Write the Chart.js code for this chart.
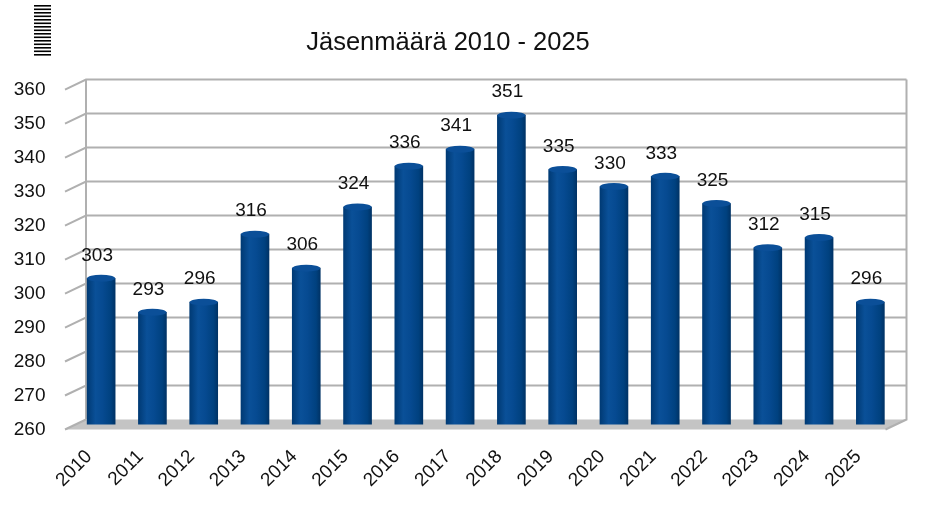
<!DOCTYPE html>
<html>
<head>
<meta charset="utf-8">
<script src="https://cdn.jsdelivr.net/npm/chart.js@4.4.1/dist/chart.umd.min.js"></script>
<style>
  html, body { margin: 0; padding: 0; background: #fff; }
  #wrap { width: 929px; height: 519px; position: relative; }
</style>
</head>
<body>
<div id="wrap"><canvas id="members"></canvas></div>
<script>
const years = ["2010", "2011", "2012", "2013", "2014", "2015", "2016", "2017",
  "2018", "2019", "2020", "2021", "2022", "2023", "2024", "2025"];
const memberCounts = [303, 293, 296, 316, 306, 324, 336, 341, 351, 335, 330, 333, 325, 312, 315, 296];
const yMin = 260;
const yMax = 360;
const yStep = 10;

const FONT = "'Liberation Sans', Arial, sans-serif";
const DEPTH_X = 10.5; // half depth of the fake 3D box
const DEPTH_Y = 5;
const BAR_W = 28;

function barGradient(ctx, cx) {
  const g = ctx.createLinearGradient(cx - BAR_W / 2, 0, cx + BAR_W / 2, 0);
  g.addColorStop(0, "#003a74");
  g.addColorStop(0.3, "#0a5098");
  g.addColorStop(0.55, "#064a91");
  g.addColorStop(0.85, "#00417f");
  g.addColorStop(1, "#003366");
  return g;
}

// back wall, side wall, floor and grid
const box3d = {
  id: "box3d",
  beforeDatasetsDraw(chart) {
    const { ctx, chartArea: a, scales: { y } } = chart;
    const bl = a.left + DEPTH_X, br = a.right + DEPTH_X;
    const fl = a.left - DEPTH_X, fr = a.right - DEPTH_X;
    const base = y.getPixelForValue(yMin);
    ctx.save();
    // floor
    ctx.fillStyle = "#c4c4c4";
    ctx.beginPath();
    ctx.moveTo(fl, base + DEPTH_Y);
    ctx.lineTo(fr, base + DEPTH_Y);
    ctx.lineTo(br, base - DEPTH_Y);
    ctx.lineTo(bl, base - DEPTH_Y);
    ctx.closePath();
    ctx.fill();
    ctx.strokeStyle = "#b0b0b0";
    ctx.lineWidth = 2;
    y.ticks.forEach(t => {
      const py = y.getPixelForValue(t.value);
      ctx.beginPath();
      ctx.moveTo(fl, py + DEPTH_Y);
      ctx.lineTo(bl, py - DEPTH_Y);
      if (t.value !== yMin) ctx.lineTo(br, py - DEPTH_Y);
      ctx.stroke();
    });
    ctx.beginPath();
    ctx.moveTo(bl, y.getPixelForValue(yMax) - DEPTH_Y);
    ctx.lineTo(bl, base - DEPTH_Y);
    ctx.moveTo(br, y.getPixelForValue(yMax) - DEPTH_Y);
    ctx.lineTo(br, base - DEPTH_Y);
    ctx.lineTo(fr, base + DEPTH_Y);
    ctx.stroke();
    ctx.restore();
  }
};

// cylinder caps and value labels
const cylinders = {
  id: "cylinders",
  afterDatasetsDraw(chart) {
    const { ctx } = chart;
    const meta = chart.getDatasetMeta(0);
    ctx.save();
    meta.data.forEach((bar, i) => {
      const rx = bar.width / 2, ry = 3.5;
      ctx.fillStyle = barGradient(ctx, bar.x);
      ctx.beginPath();
      ctx.ellipse(bar.x, bar.base, rx, ry, 0, 0, Math.PI);
      ctx.fill();
      ctx.fillStyle = "#0b4f98";
      ctx.beginPath();
      ctx.ellipse(bar.x, bar.y, rx, ry, 0, 0, Math.PI * 2);
      ctx.fill();
      ctx.fillStyle = "#111";
      ctx.font = "19px " + FONT;
      ctx.textAlign = "center";
      ctx.textBaseline = "middle";
      ctx.fillText(String(memberCounts[i]), bar.x - 4, bar.y - 23);
    });
    ctx.restore();
  }
};

// small dotted mark in the upper left corner
const cornerMark = {
  id: "cornerMark",
  afterDraw(chart) {
    const { ctx } = chart;
    ctx.save();
    ctx.fillStyle = "#000";
    for (let i = 0; i < 15; i++) {
      ctx.fillRect(34, 5 + i * 3.5, 17, 1.6);
    }
    ctx.restore();
  }
};

new Chart(document.getElementById("members"), {
  type: "bar",
  data: {
    labels: years,
    datasets: [{
      data: memberCounts,
      barThickness: BAR_W,
      backgroundColor: c => {
        const x = c.chart.scales.x;
        if (!x || !c.chart.chartArea) return "#004586";
        return barGradient(c.chart.ctx, x.getPixelForValue(c.dataIndex));
      },
      borderWidth: 0
    }]
  },
  options: {
    responsive: true,
    maintainAspectRatio: false,
    animation: false,
    layout: { padding: { top: 0, right: 33, bottom: 0, left: 0 } },
    plugins: {
      legend: { display: false },
      tooltip: { enabled: false },
      title: {
        display: true,
        text: "Jäsenmäärä 2010 - 2025",
        color: "#111",
        font: { family: FONT, size: 25.5, weight: "normal" },
        padding: { top: 28, bottom: 26 }
      }
    },
    scales: {
      x: {
        grid: { display: false },
        border: { display: false },
        afterFit: s => { s.height = 94.5; },
        ticks: {
          color: "#111",
          font: { family: FONT, size: 19 },
          minRotation: 45,
          maxRotation: 45,
          labelOffset: -12,
          padding: 13
        }
      },
      y: {
        min: yMin,
        max: yMax,
        grid: { display: false },
        border: { display: false },
        afterFit: s => { s.width = 75.5; },
        ticks: {
          stepSize: yStep,
          color: "#111",
          font: { family: FONT, size: 19 },
          labelOffset: 5,
          padding: 22
        }
      }
    }
  },
  plugins: [box3d, cylinders, cornerMark]
});
</script>
</body>
</html>
